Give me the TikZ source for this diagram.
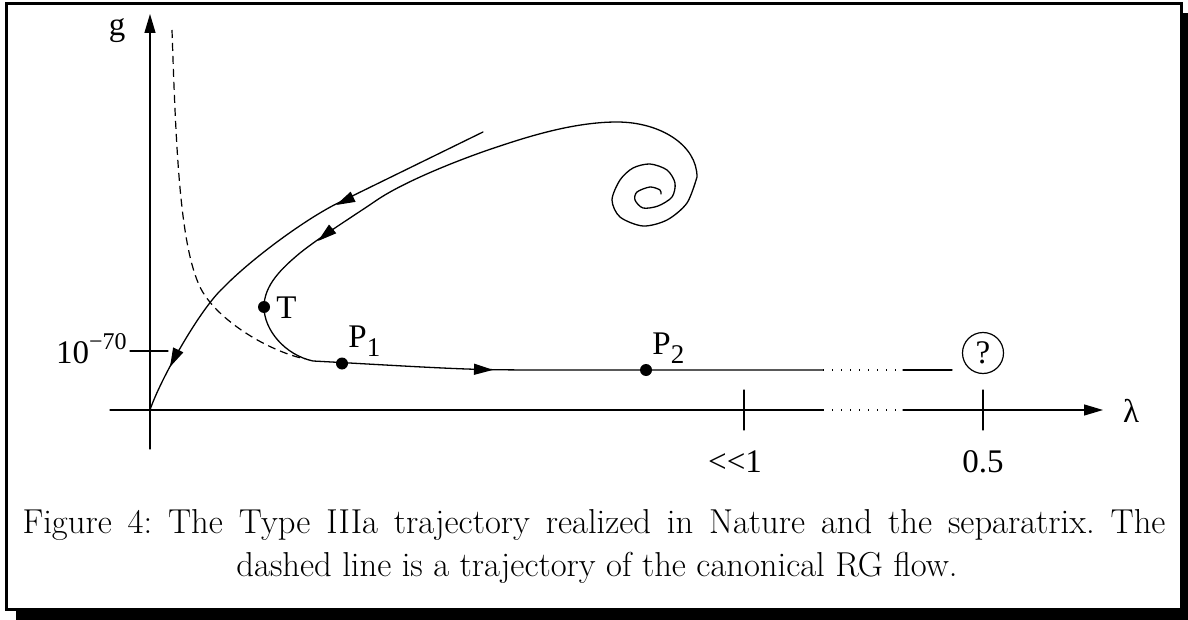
\documentclass[tikz,border=0pt]{standalone}
\usepackage{fontspec}
\newfontfamily\tms{Liberation Serif}
\usetikzlibrary{arrows.meta}
\begin{document}
\frenchspacing
\begin{tikzpicture}[x=0.5pt,y=-0.5pt,
  ln/.style={line width=0.65pt,line cap=round,line join=round},
  tipline/.style={ln,-{Triangle[length=9.5pt,width=5.5pt]}},
  sep/.style={line width=0.6pt,dash pattern=on 4pt off 2.5pt},
  dotln/.style={line width=0.6pt,dash pattern=on 0.6pt off 3.9pt},
  dot/.style={circle,fill=black,inner sep=0pt,minimum size=6pt},
  lbl/.style={inner sep=0pt,font=\tms\fontsize{16.5}{19}\selectfont},
  captext/.style={inner sep=0pt,font=\fontsize{17.3}{21.5}\selectfont}]
\useasboundingbox (0,0) rectangle (1188,620);
% frame with shadow
\fill[black] (16,13) rectangle (1188,620);
\draw[line width=1.5pt,fill=white] (6,3.5) rectangle (1181.5,609.5);
% axes
\draw[tipline] (150,449) -- (150,14);
\draw[ln] (110,410) -- (823,410);
\draw[dotln] (823,410) -- (903,410);
\draw[tipline] (903,410) -- (1103,410);
\draw[ln] (744,390) -- (744,430);
\draw[ln] (983,390) -- (983,430);
\draw[ln] (130,351) -- (168,351);
% separatrix (dashed)
\draw[sep] (172,30) .. controls (176,150) and (180,245) .. (200,287)
  .. controls (215,318) and (265,350) .. (305,359);
% outer trajectory
\draw[ln] (483,132) -- (340,202)
  .. controls (305,219) and (250,260) .. (223,288)
  .. controls (200,309) and (160,380) .. (150,410);
% inner trajectory with spiral
\draw[ln] plot[smooth] coordinates {(661,194) (660,190) (650,187) (637,192) (635,200) (643,208) (658,206) (672,197) (675,183) (667,170) (650,164) (633,168) (620,180) (612,200) (620,217) (643,226) (667,220) (687,203) (697,177)}
  .. controls (697,145) and (660,122) .. (617,122)
  .. controls (575,122) and (530,136) .. (500,146)
  .. controls (463,158) and (405,181) .. (377,200)
  .. controls (352,217) and (320,237) .. (300,253)
  .. controls (282,268) and (264,285) .. (264,307)
  .. controls (264,330) and (285,355) .. (313,361)
  .. controls (370,364) and (440,368.5) .. (483,369.5)
  .. controls (510,370) and (530,370) .. (560,370) -- (823,370);
\draw[dotln] (823,370) -- (903,370);
\draw[ln] (903,370) -- (952,370);
% arrowheads
\draw[tipline] (490,369.8) -- (493,369.9);
\draw[tipline] (338.7,203.7) -- (336,205);
\draw[tipline] (320.3,239.1) -- (318,241);
\draw[tipline] (171.3,364.3) -- (170,367);
% points
\node[dot] (T) at (264,307) {};
\node[dot] (P1) at (342,363.5) {};
\node[dot] (P2) at (646,370) {};
\node[circle,draw,line width=0.6pt,minimum size=20.5pt,inner sep=0pt] (Q) at (983,353) {};
% labels
\node[lbl,anchor=base] (glbl) at (117,36) {g};
\node[lbl,anchor=base] (lam) at (1131,422) {λ};
\node[lbl,anchor=base west] (Tlbl) at (276,318) {T};
\node[lbl,anchor=base west] (P1lbl) at (348,347) {P\raisebox{-4.5pt}{\fontsize{13.5}{13.5}\selectfont 1}};
\node[lbl,anchor=base west] (P2lbl) at (652,354) {P\raisebox{-4.5pt}{\fontsize{13.5}{13.5}\selectfont 2}};
\node[lbl] (qlbl) at (Q.center) {?};
\node[lbl,anchor=base east] (ylbl) at (127,363) {10\raisebox{7pt}{\fontsize{12}{12}\selectfont −70}};
\node[lbl,anchor=base] (x1) at (735,472) {<<1};
\node[lbl,anchor=base] (x2) at (983,472) {0.5};
% caption
\node[captext,anchor=base] (c1) at (594,533) {\hbox to 571.5pt{Figure 4: The Type IIIa trajectory realized in Nature and the separatrix. The}};
\node[captext,anchor=base] (c2) at (597,576) {dashed line is a trajectory of the canonical RG flow.};
\end{tikzpicture}
\end{document}
